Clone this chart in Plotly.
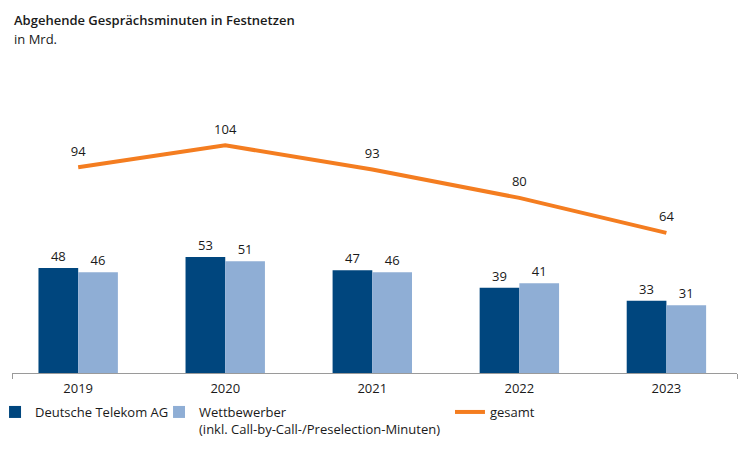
import plotly.graph_objects as go

# Werte in Mrd. Minuten
jahre = ["2019", "2020", "2021", "2022", "2023"]
telekom = [48, 53, 47, 39, 33]
wettbewerber = [46, 51, 46, 41, 31]
gesamt = [94, 104, 93, 80, 64]

dunkelblau = "#00467E"
hellblau = "#8FAED5"
orange = "#F47D20"
schrift = "Open Sans"
textfarbe = "#1a1a1a"

pos = list(range(len(jahre)))

fig = go.Figure()

fig.add_trace(go.Bar(
    x=pos, y=telekom, name="Deutsche Telekom AG",
    marker=dict(color=dunkelblau, line=dict(width=0)),
    text=telekom, textposition="outside", cliponaxis=False,
    textfont=dict(size=13, color=textfarbe), legend="legend",
))
fig.add_trace(go.Bar(
    x=pos, y=wettbewerber, name="Wettbewerber<br>(inkl. Call-by-Call-/Preselection-Minuten)",
    marker=dict(color=hellblau, line=dict(width=0)),
    text=wettbewerber, textposition="outside", cliponaxis=False,
    textfont=dict(size=13, color=textfarbe), legend="legend2",
))
fig.add_trace(go.Scatter(
    x=pos, y=gesamt, name="gesamt", mode="lines+markers+text",
    line=dict(color=orange, width=4),
    marker=dict(size=12, color="rgba(0,0,0,0)"),
    text=gesamt, textposition="top center", cliponaxis=False,
    textfont=dict(size=13, color=textfarbe), legend="legend3",
))

# gemeinsame Legenden-Einstellungen, jeder Eintrag bekommt eine eigene Legende
legende = dict(
    orientation="h", xref="paper", yref="container",
    y=1 - 389 / 450, xanchor="left", yanchor="top",
    valign="top", font=dict(size=13, color=textfarbe),
    itemclick=False, bgcolor="rgba(0,0,0,0)",
)

fig.update_layout(
    width=750, height=450,
    margin=dict(l=4, r=21, t=52, b=85, autoexpand=False),
    paper_bgcolor="white", plot_bgcolor="white",
    font=dict(family=schrift, size=13, color=textfarbe),
    barmode="group", bargap=0.46, bargroupgap=0,
    showlegend=True,
    legend=dict(legende, x=-0.0234),
    legend2=dict(legende, x=0.2028),
    legend3=dict(legende, x=0.6041),
    annotations=[
        dict(text="Abgehende Gesprächsminuten in Festnetzen", xref="paper", yref="paper",
             x=0, y=(365 - 12) / 313, xanchor="left", yanchor="middle", showarrow=False,
             font=dict(size=13, color=textfarbe, weight=600)),
        dict(text="in Mrd.", xref="paper", yref="paper",
             x=0, y=(365 - 31) / 313, xanchor="left", yanchor="middle", showarrow=False,
             font=dict(size=13, color=textfarbe)),
    ],
)

fig.update_xaxes(
    range=[-0.45, 4.48], tickvals=pos, ticktext=jahre,
    showline=True, linecolor="#9a9a9a", linewidth=1,
    ticks="", showgrid=False, zeroline=False, ticklabelstandoff=3,
    tickfont=dict(size=13, color=textfarbe),
    minor=dict(tickvals=[-0.45, 4.48], ticks="outside", ticklen=5,
               tickcolor="#9a9a9a", tickwidth=1, showgrid=False),
)
fig.update_yaxes(range=[0, 143], visible=False, showgrid=False)

fig.write_html("out.html")
